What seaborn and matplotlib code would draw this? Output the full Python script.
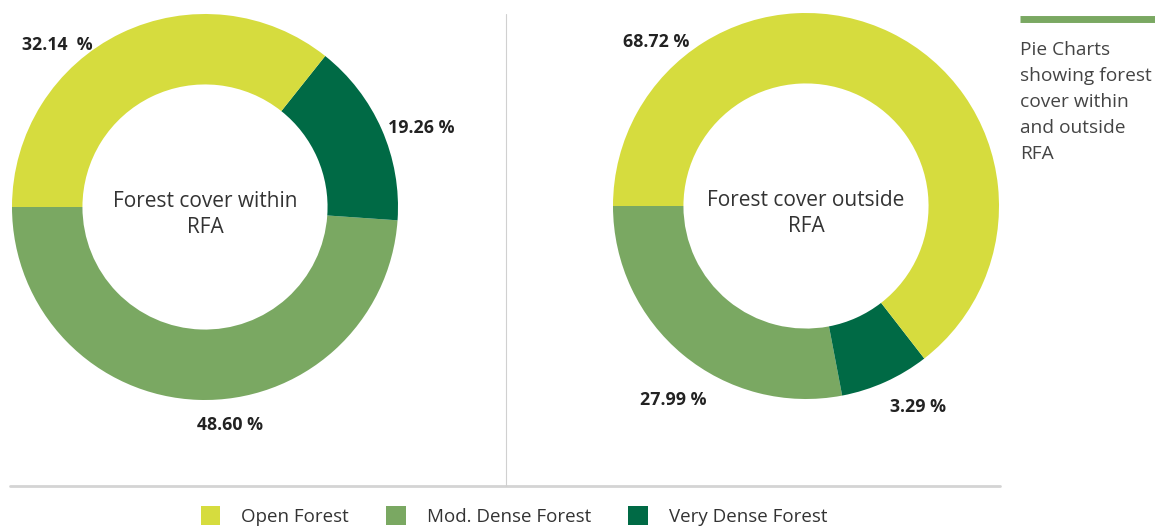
import matplotlib
matplotlib.use("Agg")
import matplotlib.pyplot as plt
import seaborn as sns
from matplotlib.patches import Patch
from matplotlib.lines import Line2D

# data
categories = ["Open Forest", "Mod. Dense Forest", "Very Dense Forest"]
# wedge shares as drawn in the picture (order: mod. dense, very dense, open)
within_share = [48.9, 15.4, 35.7]
outside_share = [28.0, 7.5, 64.5]
within_labels = ["48.60 %", "19.26 %", "32.14  %"]
outside_labels = ["27.99 %", "3.29 %", "68.72 %"]
titles = ["Forest cover within\nRFA", "Forest cover outside\nRFA"]
side_note = "Pie Charts\nshowing forest\ncover within\nand outside\nRFA"

sns.set_theme(style="white")
plt.rcParams["font.family"] = ["Open Sans", "DejaVu Sans"]

pal = {"Open Forest": "#d6dc3e", "Mod. Dense Forest": "#7aa862", "Very Dense Forest": "#006a45"}
order = ["Mod. Dense Forest", "Very Dense Forest", "Open Forest"]
colors = [pal[c] for c in order]

W, H = 1155, 529
fig = plt.figure(figsize=(W / 100, H / 100), dpi=100)


def px_axes(cx, cy, r):
    return fig.add_axes([(cx - r) / W, (H - cy - r) / H, 2 * r / W, 2 * r / H])


def px_text(x, y, s, **kw):
    fig.text(x / W, 1 - y / H, s, **kw)


centers = [(205, 207), (806, 206)]
for (cx, cy), share, title in zip(centers, [within_share, outside_share], titles):
    ax = px_axes(cx, cy, 193)
    ax.pie(share, colors=colors, startangle=180, counterclock=True, radius=1,
           wedgeprops=dict(width=0.365, linewidth=0))
    ax.set_xlim(-1, 1)
    ax.set_ylim(-1, 1)
    ax.set_aspect("equal")
    ax.axis("off")
    ax.text(0, -0.04, title, ha="center", va="center", fontsize=15,
            color="#333333", linespacing=1.3)

# percentage labels
lab_kw = dict(fontsize=12.8, fontweight="bold", color="#222222")
px_text(22, 45, within_labels[2], ha="left", va="center", **lab_kw)
px_text(388, 128, within_labels[1], ha="left", va="center", **lab_kw)
px_text(230, 425, within_labels[0], ha="center", va="center", **lab_kw)
px_text(623, 42, outside_labels[2], ha="left", va="center", **lab_kw)
px_text(640, 400, outside_labels[0], ha="left", va="center", **lab_kw)
px_text(890, 407, outside_labels[1], ha="left", va="center", **lab_kw)

# divider lines
fig.add_artist(Line2D([10 / W, 1000 / W], [1 - 486 / H, 1 - 486 / H], color="#d4d4d4", lw=2))
fig.add_artist(Line2D([506 / W, 506 / W], [1 - 14 / H, 1 - 486 / H], color="#d0d0d0", lw=0.8))

# side note
fig.add_artist(Line2D([1020 / W, 1155 / W], [1 - 19 / H, 1 - 19 / H], color="#7aa862", lw=5,
                      solid_capstyle="butt"))
px_text(1020, 41, side_note, ha="left", va="top", fontsize=13.8, color="#444444", linespacing=1.58)

# legend
handles = [Patch(facecolor=pal[c], edgecolor="none", label=c) for c in categories]
fig.legend(handles=handles, loc="center", bbox_to_anchor=(514 / W, 1 - 516 / H), ncol=3,
           frameon=False, fontsize=13.5, handlelength=1.05, handleheight=1.15,
           handletextpad=1.1, columnspacing=2.0, labelcolor="#333333")

fig.savefig("out.png", dpi=100)
